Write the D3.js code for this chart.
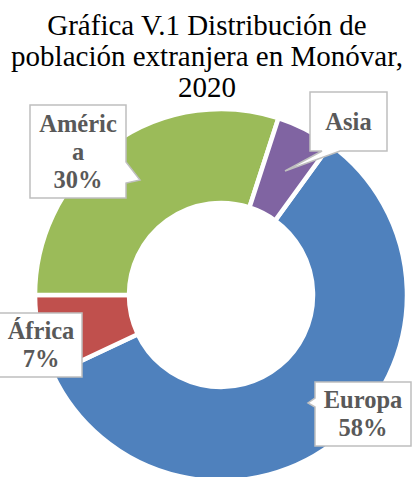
<!DOCTYPE html>
<html>
<head>
<meta charset="utf-8">
<script src="https://cdn.jsdelivr.net/npm/d3@7"></script>
<style>
  html, body { margin: 0; padding: 0; background: #fff; }
  svg { display: block; }
</style>
</head>
<body>
<svg id="chart" width="412" height="477"></svg>
<script>
// --- data -------------------------------------------------------------
const titleLines = ['Gráfica V.1 Distribución de', 'población extranjera en Monóvar,', '2020'];
const regions = ['Europa', 'África', 'América', 'Asia'];
const shares  = [58, 7, 30, 5];
const showPct = [true, true, true, false];   // Asia's box is too small for its %

// --- setup ------------------------------------------------------------
const W = 412, H = 477;
const cx = 221, cy = 295;
const rOuter = 186, rInner = 92;

const svg = d3.select('#chart');
const color = d3.scaleOrdinal()
  .domain(regions)
  .range(['#4F81BD', '#C0504D', '#9BBB59', '#8064A2']);

svg.append('g')
  .selectAll('text')
  .data(titleLines)
  .join('text')
  .attr('x', W / 2 + 1)
  .attr('y', (d, i) => 35 + i * 31)
  .attr('text-anchor', 'middle')
  .attr('font-family', 'Liberation Serif, serif')
  .attr('font-size', 29)
  .attr('fill', '#000')
  .text(d => d);

const pie = d3.pie()
  .sort(null)
  .value(d => d.value)
  .startAngle(36 * Math.PI / 180)
  .endAngle(396 * Math.PI / 180);

const arc = d3.arc().innerRadius(rInner).outerRadius(rOuter);

const data = regions.map((r, i) => ({ name: r, value: shares[i], pct: showPct[i] }));

const g = svg.append('g').attr('transform', `translate(${cx},${cy})`);
g.selectAll('path')
  .data(pie(data))
  .join('path')
  .attr('d', arc)
  .attr('fill', d => color(d.data.name))
  .attr('stroke', '#fff')
  .attr('stroke-width', 4.5);

// --- callout labels (box position, pointer tip in page coords) --------
const boxes = {
  'Europa':  { x: 315, y: 382, w: 96, h: 64, ptr: { side: 'left',   a: 398, b: 407, tip: [308, 403] } },
  'África':  { x: -2,  y: 313, w: 84, h: 64, ptr: null },
  'América': { x: 30,  y: 105, w: 96, h: 93, ptr: { side: 'right',  a: 162, b: 183, tip: [140, 180] } },
  'Asia':    { x: 310, y: 92,  w: 77, h: 59, ptr: { side: 'bottom', a: 322, b: 340, tip: [285, 171] } }
};

function calloutPath(b) {
  const x0 = b.x, y0 = b.y, x1 = b.x + b.w, y1 = b.y + b.h;
  const p = b.ptr;
  const pts = [[x0, y0], [x1, y0]];
  if (p && p.side === 'right') pts.push([x1, p.a], p.tip, [x1, p.b]);
  pts.push([x1, y1]);
  if (p && p.side === 'bottom') pts.push([p.b, y1], p.tip, [p.a, y1]);
  pts.push([x0, y1]);
  if (p && p.side === 'left') pts.push([x0, p.b], p.tip, [x0, p.a]);
  return d3.line()(pts) + 'Z';
}

function splitName(name) {
  // the box wraps after six characters
  const out = [];
  for (let i = 0; i < name.length; i += 6) out.push(name.slice(i, i + 6));
  return out;
}

const labels = svg.append('g')
  .selectAll('g')
  .data(data)
  .join('g');

labels.append('path')
  .attr('d', d => calloutPath(boxes[d.name]))
  .attr('fill', '#fff')
  .attr('stroke', '#BFBFBF')
  .attr('stroke-width', 1.5);

labels.each(function (d) {
  const b = boxes[d.name];
  const lines = splitName(d.name);
  if (d.pct) lines.push(d.value + '%');
  const lh = 28;
  const firstBase = b.y + b.h / 2 - (lines.length - 1) * lh / 2 + 8;
  d3.select(this).append('text')
    .attr('text-anchor', 'middle')
    .attr('font-family', 'Liberation Serif, serif')
    .attr('font-weight', 'bold')
    .attr('font-size', 24.5)
    .attr('fill', '#595959')
    .selectAll('tspan')
    .data(lines)
    .join('tspan')
    .attr('x', b.x + b.w / 2 + (d.name === 'África' ? 1 : 0))
    .attr('y', (l, i) => firstBase + i * lh)
    .text(l => l);
});
</script>
</body>
</html>
